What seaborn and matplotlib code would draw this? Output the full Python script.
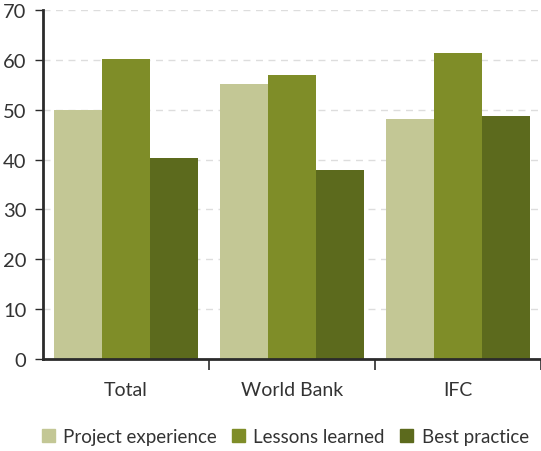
"""Project experience / lessons learned / best practice by institution"""
import pandas as pd
import matplotlib.pyplot as plt
import seaborn as sns

# Данные
groups = ['Total', 'World Bank', 'IFC']
project_experience = [50.0, 55.2, 48.1]
lessons_learned = [60.2, 57.0, 61.4]
best_practice = [40.3, 37.9, 48.7]
series_names = ['Project experience', 'Lessons learned', 'Best practice']
colors = ['#C3C795', '#7F8D28', '#5C6A1D']

df = pd.DataFrame({
    'group': groups * 3,
    'series': [s for s in series_names for _ in groups],
    'value': project_experience + lessons_learned + best_practice,
})

sns.set_style('white')
plt.rcParams['font.family'] = ['Lato', 'DejaVu Sans']

fig = plt.figure(figsize=(5.41, 4.52), dpi=100)
ax = fig.add_axes([0.0795, 0.2035, 0.9205, 0.7722])

sns.barplot(data=df, x='group', y='value', hue='series', order=groups,
            hue_order=series_names, palette=colors, width=0.867,
            saturation=1, linewidth=0, ax=ax, legend=False)

ax.set_xlim(-0.5, 2.5)
ax.set_ylim(0, 70)
ax.set_yticks(range(0, 71, 10))
ax.set_xlabel('')
ax.set_ylabel('')

# сетка
ax.yaxis.grid(True, linestyle=(0, (5, 4)), color='#DDDDDD', linewidth=1)
ax.set_axisbelow(True)

for s in ['top', 'right']:
    ax.spines[s].set_visible(False)
for s in ['left', 'bottom']:
    ax.spines[s].set_color('#2B2B2B')
    ax.spines[s].set_linewidth(2)

ax.tick_params(axis='y', left=True, length=6, width=1, color='#2B2B2B',
               labelsize=14.5, labelcolor='#333333', pad=6)
ax.tick_params(axis='x', bottom=False, labelsize=14, labelcolor='#333333', pad=12)
ax.set_xticks([0.5, 1.5, 2.5], minor=True)
ax.tick_params(axis='x', which='minor', bottom=True, length=8, width=1.2,
               color='#2B2B2B')

handles = [plt.Rectangle((0, 0), 1, 1, color=c) for c in colors]
fig.legend(handles, series_names, loc='lower center', bbox_to_anchor=(0.527, -0.025),
           ncol=3, frameon=False, fontsize=13.5, handlelength=0.7, handleheight=0.7,
           columnspacing=0.8, handletextpad=0.45, labelcolor='#333333')

fig.savefig('out.png', dpi=100)
